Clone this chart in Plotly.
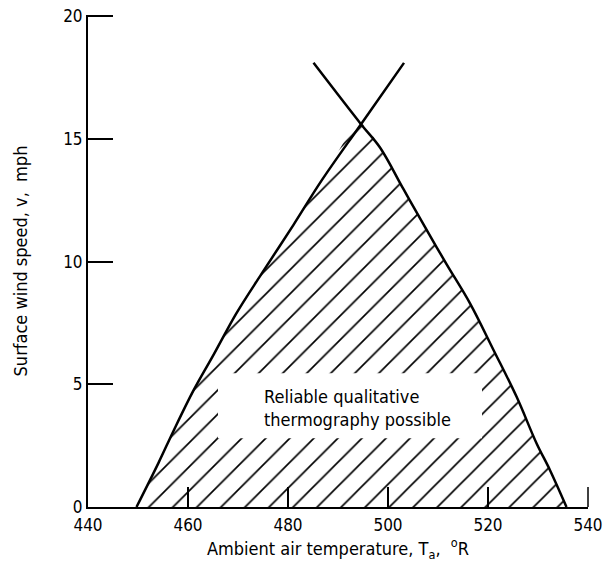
import plotly.graph_objects as go

# Left boundary curve (rises to the right)
left_T = [449.7, 454.1, 457.1, 461.1, 465.1, 469.7, 474.7, 481.1, 486.7, 494.6, 503.2]
left_v = [0.0, 1.8, 3.1, 4.75, 6.2, 7.9, 9.5, 11.5, 13.3, 15.6, 18.1]
# Right boundary curve (falls to the right)
right_T = [485.1, 494.6, 498.4, 503.1, 507.7, 511.7, 516.4, 521.1, 525.7, 529.7, 532.4, 535.7]
right_v = [18.1, 15.6, 14.65, 12.95, 11.3, 9.9, 8.3, 6.4, 4.5, 2.6, 1.5, 0.0]

x_ticks = [440, 460, 480, 500, 520, 540]
y_ticks = [0, 5, 10, 15, 20]
label_text = "Reliable qualitative<br>thermography possible"

FONT = "DejaVu Sans Condensed, Liberation Sans Narrow, DejaVu Sans, sans-serif"

# hatched region: left curve up to the crossing, then right curve down
i_left = left_T.index(494.6)
i_right = right_T.index(494.6)
poly_T = left_T[: i_left + 1] + right_T[i_right + 1:]
poly_v = left_v[: i_left + 1] + right_v[i_right + 1:]

fig = go.Figure()
fig.add_trace(go.Scatter(
    x=poly_T, y=poly_v, mode="lines", fill="toself",
    line=dict(width=0, color="black", shape="spline", smoothing=1.0),
    fillcolor="rgba(0,0,0,0)",
    fillpattern=dict(shape="/", size=17, solidity=0.1, fgcolor="black",
                     bgcolor="white", fgopacity=1),
    hoverinfo="skip", showlegend=False,
))
fig.add_trace(go.Scatter(
    x=left_T, y=left_v, mode="lines",
    line=dict(color="black", width=2.5, shape="spline", smoothing=1.0),
    showlegend=False,
))
fig.add_trace(go.Scatter(
    x=right_T, y=right_v, mode="lines",
    line=dict(color="black", width=2.5, shape="spline", smoothing=1.0),
    showlegend=False,
))

fig.add_shape(type="rect", x0=466, x1=518.8, y0=2.8, y1=5.45,
              fillcolor="white", line=dict(width=0), layer="above")
# upward tick mark at the right end of the x axis (Plotly drops the end tick)
fig.add_shape(type="line", xref="paper", yref="paper", x0=1, x1=1, y0=0, y1=20 / 492,
              line=dict(color="black", width=1.5), layer="above")
fig.add_annotation(x=474.8, y=4.04, text=label_text, showarrow=False,
                   xanchor="left", align="left",
                   font=dict(family=FONT, size=18, color="black"))

fig.update_layout(
    width=604, height=568,
    margin=dict(l=88, r=16, t=15, b=61),
    paper_bgcolor="white", plot_bgcolor="white",
    font=dict(family=FONT, size=17, color="black"),
    xaxis=dict(range=[440, 540], tickvals=x_ticks, ticks="inside", ticklen=20,
               tickwidth=1.5, tickcolor="black", showline=True, linecolor="black",
               linewidth=2, showgrid=False, zeroline=False, automargin=False,
               ticklabelstandoff=2, ticklabeloverflow="allow",
               title=dict(text="Ambient air temperature, T<sub>a</sub>,  <sup>o</sup>R",
                          font=dict(size=18), standoff=8)),
    yaxis=dict(range=[0, 20.05], tickvals=y_ticks, ticks="inside", ticklen=25,
               tickwidth=1.5, tickcolor="black", showline=True, linecolor="black",
               linewidth=2, showgrid=False, zeroline=False, automargin=False,
               ticklabeloverflow="allow",
               title=dict(text="Surface wind speed, v,  mph", font=dict(size=18),
                          standoff=31)),
)

fig.write_html(
    "out.html",
    config={"displayModeBar": False},
    post_script="document.body.style.margin='0';document.body.style.overflow='hidden';",
)
